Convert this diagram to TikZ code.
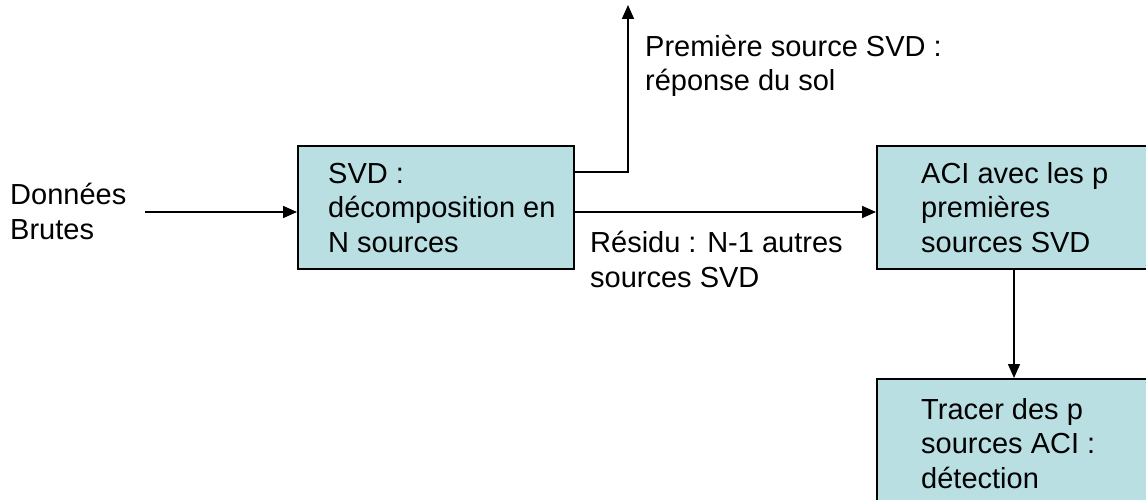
\documentclass[tikz,border=0pt]{standalone}
\usepackage{fontspec}
\setmainfont{Liberation Sans}
\usetikzlibrary{arrows.meta}
\definecolor{boxfill}{RGB}{185,223,227}
\begin{document}
\begin{tikzpicture}[x=1pt,y=-1pt,
  box/.style={draw=black, line width=2pt, fill=boxfill, anchor=north west, inner sep=0pt, minimum width=276pt, minimum height=123pt},
  lbl/.style={anchor=base west, align=left, font=\fontsize{29}{34.5}\selectfont, inner sep=0pt},
  conn/.style={line width=1.5pt, -{Triangle[length=14pt,width=12pt]}}]
\useasboundingbox (0,0) rectangle (1146,500);
\clip (0,0) rectangle (1146,500);
\node[box] (b1) at (297,145) {};
\node[box, minimum width=300pt] (b2) at (876,145) {};
\node[box, minimum width=300pt, minimum height=150pt] (b3) at (876,378) {};
\node[lbl] (tin) at (10,239) {Données\\Brutes};
\node[lbl] (t1) at (328,252) {SVD :\\décomposition en\\N sources};
\node[lbl] (t2) at (921,252) {ACI avec les p\\premières\\sources SVD};
\node[lbl] (t3) at (921,488) {Tracer des p\\sources ACI :\\détection};
\node[lbl] (tup) at (645,91) {Première source SVD :\\réponse du sol};
\node[lbl] (tres) at (590,287) {Résidu : N-1 autres\\sources SVD};
\coordinate (a0) at (145,212);
\coordinate (up) at (628,5);
\draw[conn] (a0) -- (a0 -| b1.west);
\draw[conn] ([yshift=-27pt]b1.north east) -| (up);
\draw[conn] (a0 -| b1.east) -- (a0 -| b2.west);
\draw[conn] ([xshift=138pt]b2.south west) -- ([xshift=138pt]b3.north west);
\end{tikzpicture}
\end{document}
